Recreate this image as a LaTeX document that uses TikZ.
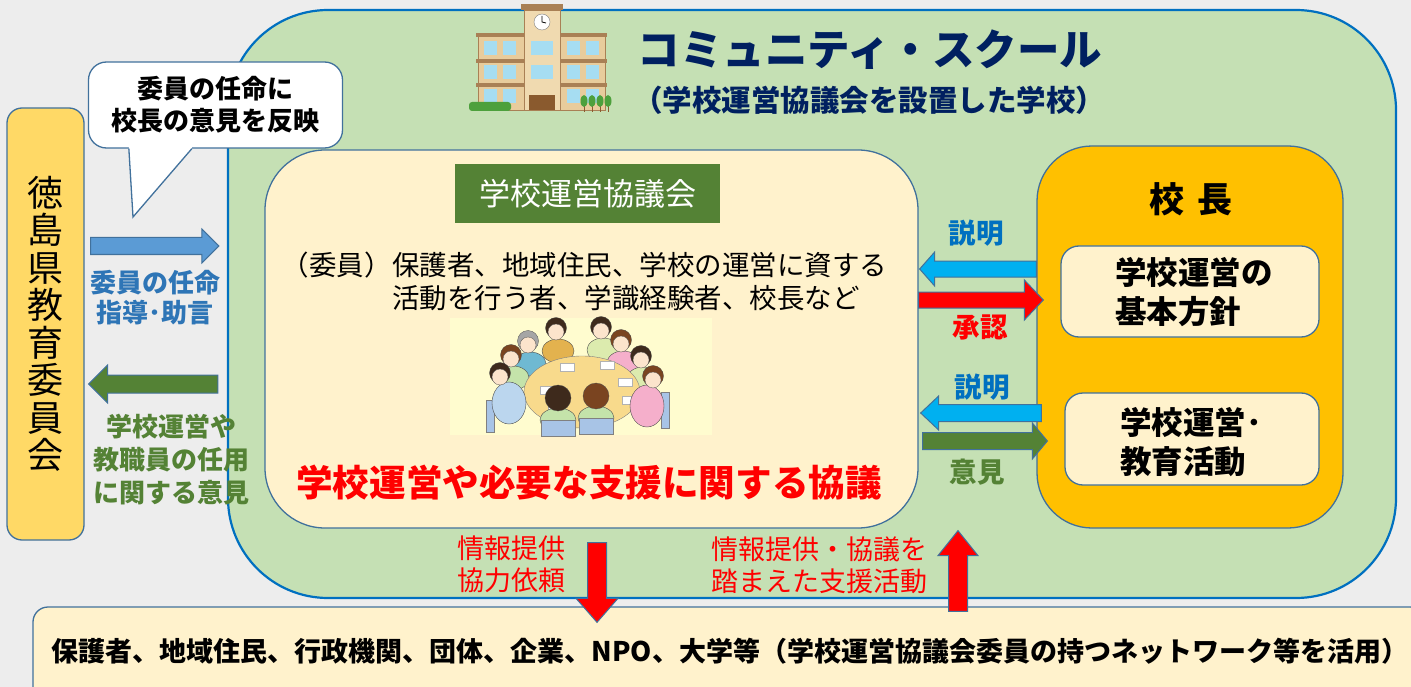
\documentclass[tikz,border=0pt]{standalone}
\usepackage{fontspec}
\setmainfont{Noto Sans CJK JP}
\usetikzlibrary{calc,positioning}

\definecolor{bgGray}{HTML}{EDEDED}
\definecolor{panelGreen}{HTML}{C5E0B4}
\definecolor{panelBlue}{HTML}{0070C0}
\definecolor{edge}{HTML}{41719C}
\definecolor{cream}{HTML}{FFF2CC}
\definecolor{eduYellow}{HTML}{FFD966}
\definecolor{chiefOrange}{HTML}{FFC000}
\definecolor{darkGreen}{HTML}{548235}
\definecolor{arrowBlue}{HTML}{5B9BD5}
\definecolor{arrowCyan}{HTML}{00B0F0}
\definecolor{textBlue}{HTML}{0070C0}
\definecolor{appointBlue}{HTML}{2E75B6}
\definecolor{titleNavy}{HTML}{002060}
\definecolor{meetYellow}{HTML}{FFFCCF}
\definecolor{tableYellow}{HTML}{F8DA8C}
\definecolor{skin}{HTML}{FCE4CC}
\definecolor{hairBrown}{HTML}{7A4420}
\definecolor{hairDark}{HTML}{3E2A1C}
\definecolor{hairGray}{HTML}{A5A5A5}
\definecolor{shirtGold}{HTML}{E3B24E}
\definecolor{shirtLime}{HTML}{DCEBAE}
\definecolor{shirtPink}{HTML}{F5AFCB}
\definecolor{shirtTeal}{HTML}{6FB9D2}
\definecolor{shirtMint}{HTML}{C4E3AA}
\definecolor{shirtSky}{HTML}{BBD6EE}
\definecolor{chairBlue}{HTML}{A8C4E6}
\definecolor{wallTan}{HTML}{E8CC9C}
\definecolor{towerTan}{HTML}{F0DAB0}
\definecolor{wallLine}{HTML}{A98055}
\definecolor{glass}{HTML}{A6DDF2}
\definecolor{doorBrown}{HTML}{8A5A2E}
\definecolor{leafGreen}{HTML}{4DA03C}

\newcommand{\jpsize}[2]{\fontsize{#1pt}{#2pt}\selectfont}

% block arrow: from, to, fill, body half width, head half width, head length
\newcommand{\fatarrow}[6]{%
  \path[arrowline, fill=#3] let \p1=(#1), \p2=(#2),
    \n1={atan2(\y2-\y1,\x2-\x1)}, \n2={veclen(\x2-\x1,\y2-\y1)} in
    [shift={(\p1)}, rotate=\n1]
    (0,-#4) -- (\n2-#6,-#4) -- (\n2-#6,-#5) -- (\n2,0)
    -- (\n2-#6,#5) -- (\n2-#6,#4) -- (0,#4) -- cycle;}

\begin{document}
\begin{tikzpicture}[x=1pt,y=-1pt,
  box/.style={draw=edge, line width=1.3pt, inner sep=0pt},
  arrowline/.style={draw=edge, line width=1pt},
  lbl/.style={font=\bfseries\jpsize{27.5}{32}, align=center, inner sep=0pt}]

\useasboundingbox[fill=bgGray] (0,0) rectangle (1411,687);

% community school panel
\node[box, draw=panelBlue, line width=2.2pt, fill=panelGreen, rounded corners=100pt,
  minimum width=1168pt, minimum height=588pt] (school) at (812,304) {};

% board of education
\node[box, fill=eduYellow, rounded corners=15pt, minimum width=77pt, minimum height=432pt,
  font=\jpsize{36}{37.5}, align=center] (edu) at (45.5,324) {徳\\島\\県\\教\\育\\委\\員\\会};

% speech bubble
\node[box, fill=white, rounded corners=18pt, minimum width=254pt, minimum height=86pt,
  font=\bfseries\jpsize{26}{32}, align=center] (bubble) at (215.5,105) {委員の任命に\\校長の意見を反映};
\coordinate (tip) at (133,217);
\fill[white] ($(bubble.south west)+(41,-2)$) -- ($(bubble.south west)+(41,0)$) -- (tip)
  -- ($(bubble.south west)+(104,0)$) -- ($(bubble.south west)+(104,-2)$) -- cycle;
\draw[edge, line width=1.3pt] ($(bubble.south west)+(41,0)$) -- (tip) -- ($(bubble.south west)+(104,0)$);

% school building
\fill[wallTan, draw=wallLine] (478,33) rectangle (605,110);
\foreach \fy in {33,59,83}
  \fill[wallLine] (476,\fy) rectangle (607,\fy+4);
\fill[towerTan, draw=wallLine] (524,10) rectangle (560,110);
\fill[wallLine] (521,4) rectangle (563,10);
\foreach \wy in {41,65,89}
  \foreach \wx in {484,503,567,586}
    \fill[glass] (\wx,\wy) rectangle (\wx+13,\wy+14);
\foreach \wy in {41,65}
  \fill[glass] (531,\wy) rectangle (553,\wy+14);
\fill[doorBrown] (529,95) rectangle (555,110);
\draw[fill=white, draw=gray] (542,22) circle (8);
\draw[line width=0.8pt] (542,16) -- (542,22) -- (546,23);
\fill[leafGreen, rounded corners=3pt] (469,102) rectangle (511,111);
\foreach \tx in {584,592,600,608} {
  \draw[doorBrown] (\tx,104) -- (\tx,112);
  \fill[leafGreen] (\tx,101) ellipse (3.5 and 6);
}

% title
\node[font=\bfseries\jpsize{42.5}{42}, text=titleNavy] (title) at (870,50) {コミュニティ・スクール};
\node[font=\bfseries\jpsize{29.5}{30}, text=titleNavy] (subtitle) at (869,100) {（学校運営協議会を設置した学校）};

% school management council
\node[box, fill=cream, rounded corners=60pt, minimum width=653pt, minimum height=378pt] (board) at (591.5,339) {};
\node[fill=darkGreen, text=white, minimum width=265pt, minimum height=59pt, inner sep=0pt,
  font=\jpsize{31}{31}] (boardname) at (587.5,193.5) {学校運営協議会};
\node[anchor=east, inner sep=0pt, font=\jpsize{27.5}{33}] (members) at (392,265) {（委員）};
\node[anchor=west, inner sep=0pt, align=left, font=\jpsize{27.5}{33}] (memberlist) at (392,281.5)
  {保護者、地域住民、学校の運営に資する\\活動を行う者、学識経験者、校長など};

% meeting illustration
\node[fill=meetYellow, minimum width=262pt, minimum height=117pt, inner sep=0pt] (meeting) at (581,376.5) {};
\foreach \px/\py/\shirt/\hair in {556/330/shirtGold/hairDark, 601/329/shirtLime/hairDark,
    621/342/shirtPink/hairBrown, 641/358/shirtLime/hairDark,
    528/343/shirtTeal/hairGray, 511/357/shirtMint/hairBrown} {
  \fill[\shirt, draw=black!70, line width=0.4pt] (\px+2,\py+21) ellipse (16 and 12);
  \fill[\hair, draw=black!70, line width=0.3pt] (\px,\py-2) circle (10.5);
  \fill[skin, draw=black!70, line width=0.3pt] (\px,\py+2) circle (8);
}
\fill[tableYellow, draw=black!50, line width=0.4pt] (582,392) ellipse (58 and 36);
\foreach \sx/\sy in {560/363, 600/361, 618/378, 540/386, 622/396, 548/404}
  \fill[white, draw=black!30, line width=0.3pt] (\sx,\sy) rectangle (\sx+14,\sy+8);
% side sitters with their chairs
\fill[chairBlue, draw=black!50, line width=0.3pt] (661,392) rectangle (669,428);
\fill[chairBlue, draw=black!50, line width=0.3pt] (486,400) rectangle (494,432);
\foreach \px/\py/\shirt/\hair/\dx in {653/378/shirtPink/hairBrown/-6, 500/375/shirtSky/hairDark/9} {
  \fill[\shirt, draw=black!70, line width=0.4pt] (\px+\dx,\py+28) ellipse (17 and 21);
  \fill[\hair, draw=black!70, line width=0.3pt] (\px,\py-2) circle (10.5);
  \fill[skin, draw=black!70, line width=0.3pt] (\px,\py+2) circle (8);
}
% sitters seen from behind
\foreach \px/\py/\shirt/\hair in {558/398/shirtMint/hairDark, 596/396/shirtMint/hairBrown} {
  \fill[\shirt, draw=black!70, line width=0.4pt] (\px,\py+22) ellipse (18 and 12);
  \fill[chairBlue, draw=black!50, line width=0.3pt] (\px-17,\py+22) rectangle (\px+17,\py+38);
  \fill[\hair, draw=black!70, line width=0.3pt] (\px,\py) circle (13);
}

\node[font=\bfseries\jpsize{36.6}{40}, text=red] (topic) at (589,483) {学校運営や必要な支援に関する協議};

% principal
\node[box, fill=chiefOrange, rounded corners=55pt, minimum width=306pt, minimum height=382pt] (principal) at (1190,337) {};
\node[font=\bfseries\jpsize{35}{35}] (principalname) at (1191,199) {校\hspace{0.35em}長};
\node[box, fill=cream, rounded corners=18pt, minimum width=258pt, minimum height=91pt] (policy) at (1190,291.5) {};
\node[anchor=west, inner sep=0pt, align=left, font=\bfseries\jpsize{31.5}{39}] (policytext) at (1115,292.5)
  {学校運営の\\基本方針};
\node[box, fill=cream, rounded corners=18pt, minimum width=254pt, minimum height=92pt] (activity) at (1192,439) {};
\node[anchor=west, inner sep=0pt, align=left, font=\bfseries\jpsize{31.5}{39}] (activitytext) at (1120,442.5)
  {学校運営･\\教育活動};

% partners
\node[box, fill=cream, rounded corners=15pt, minimum width=1392pt, minimum height=95pt] (partners) at (729,654.5) {};
\node[font=\bfseries\jpsize{27}{30}] (partnertext) at (730,651)
  {保護者、地域住民、行政機関、団体、企業、NPO、大学等（学校運営協議会委員の持つネットワーク等を活用）};

% arrows and labels
\fatarrow{$(edu.east |- 0,246)+(6,0)$}{$(school.west |- 0,246)+(-8,0)$}{arrowBlue}{8.5}{17}{17}
\fatarrow{$(school.west |- 0,384)+(-9,0)$}{$(edu.east |- 0,384)+(4,0)$}{darkGreen}{9}{19}{19}
\node[lbl, text=appointBlue, font=\bfseries\jpsize{26}{30}] (appoint) at (155,297.5) {委員の任命\\指導･助言};
\node[lbl, text=darkGreen, font=\bfseries\jpsize{26}{33}] (views) at (171,460) {学校運営や\\教職員の任用\\に関する意見};

\fatarrow{principal.west |- 0,269}{$(board.east |- 0,269)+(1,0)$}{arrowCyan}{8}{17}{15}
\fatarrow{board.east |- 0,300}{$(principal.west |- 0,300)+(7,0)$}{red}{8}{20}{19}
\fatarrow{$(principal.west |- 0,413)+(5,0)$}{$(board.east |- 0,413)+(2,0)$}{arrowCyan}{8.5}{17}{18}
\fatarrow{$(board.east |- 0,441)+(4,0)$}{$(principal.west |- 0,441)+(11,0)$}{darkGreen}{8.5}{18}{15}
\node[lbl, text=textBlue] (explain1) at (976,233) {説明};
\node[lbl, text=red] (approve) at (980,327) {承認};
\node[lbl, text=textBlue] (explain2) at (982,387) {説明};
\node[lbl, text=darkGreen] (opinion) at (977,472) {意見};

\fatarrow{$(board.south -| 597,0)+(0,14)$}{$(partners.north -| 597,0)+(0,16)$}{red}{9.5}{21}{24}
\fatarrow{$(partners.north -| 958,0)+(0,5)$}{$(board.south -| 958,0)+(0,2)$}{red}{9.5}{20}{25}
\node[text=red, inner sep=0pt, align=center, font=\jpsize{27}{32}] (request) at (511,564) {情報提供\\協力依頼};
\node[text=red, inner sep=0pt, align=center, font=\jpsize{27}{32}] (support) at (819,565) {情報提供・協議を\\踏まえた支援活動};

\end{tikzpicture}
\end{document}
